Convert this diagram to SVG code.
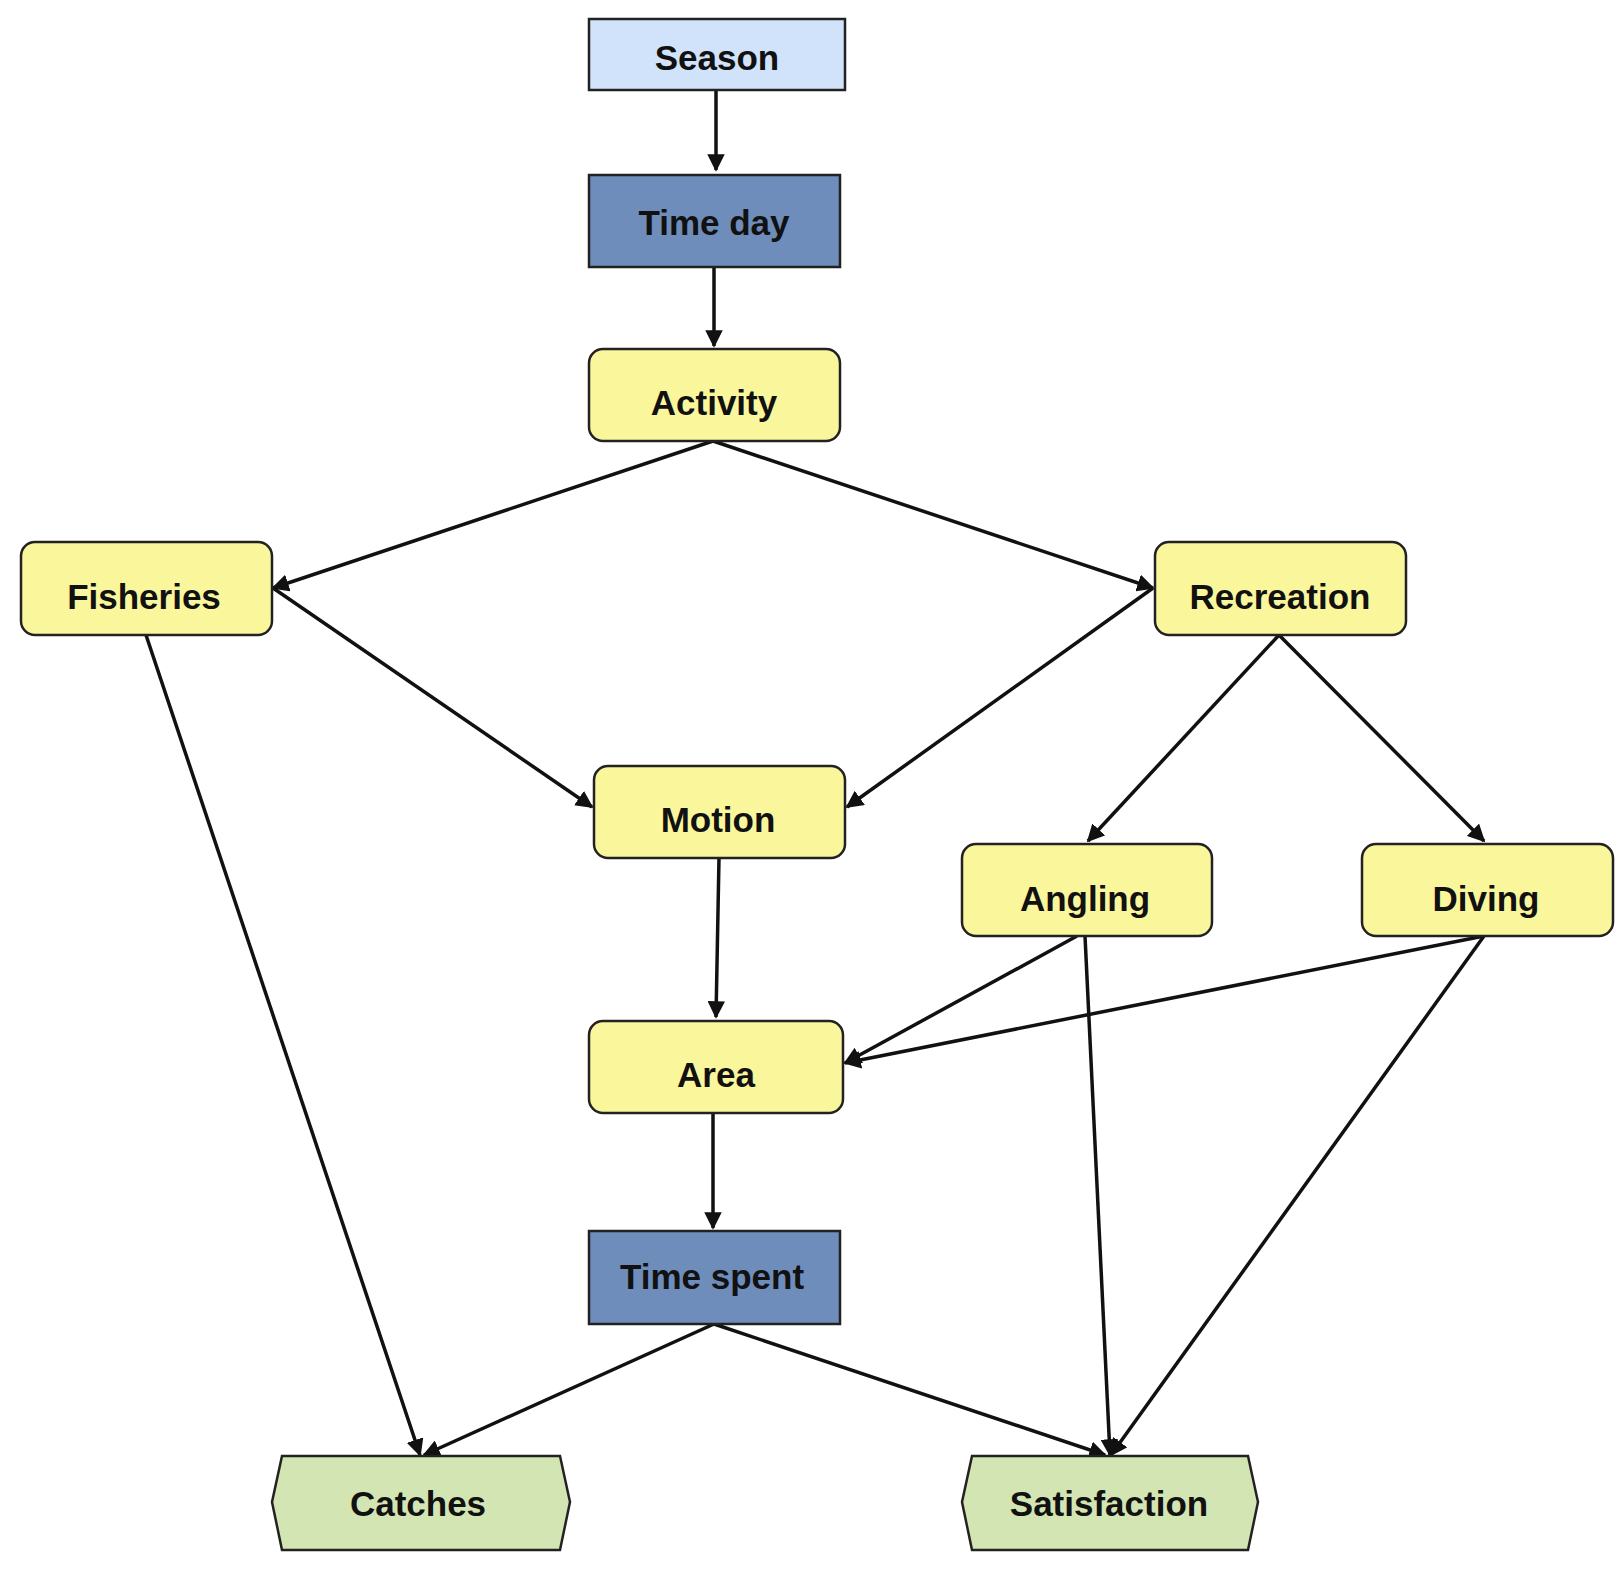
<svg xmlns="http://www.w3.org/2000/svg" width="1623" height="1569" viewBox="0 0 1623 1569">
<style>
.b{stroke:#222;stroke-width:2.5}
.y{fill:#FAF69C}.lb{fill:#D0E3FA}.db{fill:#6E8DBB}.g{fill:#D2E5B2}
text{font-family:"Liberation Sans",Arial,sans-serif;font-weight:bold;font-size:35px;fill:#111;text-anchor:middle;dominant-baseline:central}
.e{stroke:#111;stroke-width:3.5;fill:none;marker-end:url(#a)}
</style>
<defs><marker id="a" viewBox="0 0 10 10" refX="9" refY="5" markerWidth="5" markerHeight="5" orient="auto" markerUnits="strokeWidth"><path d="M0,0L10,5L0,10z" fill="#111"/></marker></defs>
<rect width="1623" height="1569" fill="#fff"/>
<g id="connectors">
<line class="e" x1="716" y1="90" x2="716" y2="170"/>
<line class="e" x1="714" y1="267" x2="714" y2="346"/>
<line class="e" x1="713" y1="441" x2="273" y2="588"/>
<line class="e" x1="713" y1="441" x2="1153" y2="588"/>
<line class="e" x1="273" y1="588" x2="592" y2="807"/>
<line class="e" x1="1153" y1="588" x2="847" y2="807"/>
<line class="e" x1="1279" y1="635" x2="1088" y2="841"/>
<line class="e" x1="1279" y1="635" x2="1484" y2="841"/>
<line class="e" x1="146" y1="635" x2="420" y2="1455"/>
<line class="e" x1="719" y1="858" x2="716" y2="1017"/>
<line class="e" x1="1077" y1="936" x2="845" y2="1063"/>
<line class="e" x1="1484" y1="936" x2="845" y2="1063"/>
<line class="e" x1="713" y1="1113" x2="713" y2="1228"/>
<line class="e" x1="714" y1="1324" x2="424" y2="1455"/>
<line class="e" x1="714" y1="1324" x2="1105" y2="1455"/>
<line class="e" x1="1085" y1="936" x2="1110" y2="1455"/>
<line class="e" x1="1484" y1="936" x2="1111" y2="1455"/>
</g>
<g id="season"><rect class="b lb" x="589" y="19" width="256" height="71"/><text x="717" y="57">Season</text></g>
<g id="timeday"><rect class="b db" x="589" y="175" width="251" height="92"/><text x="714" y="222">Time day</text></g>
<g id="activity"><rect class="b y" x="589" y="349" width="251" height="92" rx="14"/><text x="714" y="402">Activity</text></g>
<g id="fisheries"><rect class="b y" x="21" y="542" width="251" height="93" rx="14"/><text x="144" y="596">Fisheries</text></g>
<g id="recreation"><rect class="b y" x="1155" y="542" width="251" height="93" rx="14"/><text x="1280" y="596">Recreation</text></g>
<g id="motion"><rect class="b y" x="594" y="766" width="251" height="92" rx="14"/><text x="718" y="819">Motion</text></g>
<g id="angling"><rect class="b y" x="962" y="844" width="250" height="92" rx="14"/><text x="1085" y="898">Angling</text></g>
<g id="diving"><rect class="b y" x="1362" y="844" width="251" height="92" rx="14"/><text x="1486" y="898">Diving</text></g>
<g id="area"><rect class="b y" x="589" y="1021" width="254" height="92" rx="14"/><text x="716" y="1074">Area</text></g>
<g id="timespent"><rect class="b db" x="589" y="1231" width="251" height="93"/><text x="712" y="1276">Time spent</text></g>
<g id="catches"><path class="b g" d="M282,1456H560L570,1502L560,1550H282L272,1502Z"/><text x="418" y="1503">Catches</text></g>
<g id="satisfaction"><path class="b g" d="M972,1456H1248L1258,1502L1248,1550H972L962,1502Z"/><text x="1109" y="1503">Satisfaction</text></g>
</svg>
